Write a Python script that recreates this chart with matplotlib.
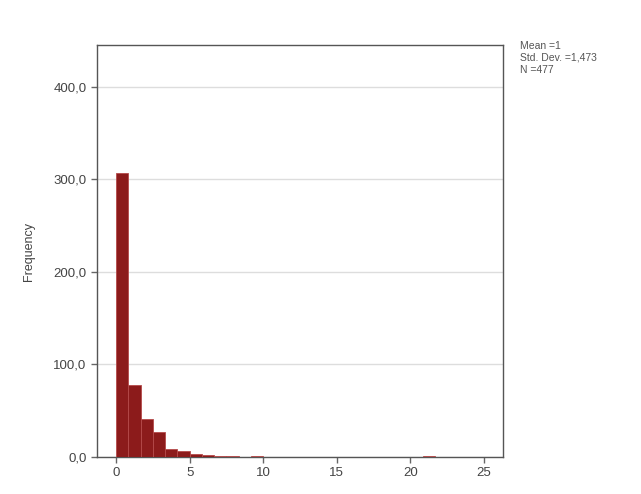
import numpy as np
import matplotlib
matplotlib.use("Agg")
import matplotlib.pyplot as plt
from matplotlib.ticker import FuncFormatter

plt.rcParams['font.family'] = ['Liberation Sans', 'DejaVu Sans']

# Histogram data: 30 bins of equal width from 0 to 25
bin_edges = np.linspace(0, 25, 31)
counts = [307, 78, 41, 27, 9, 6, 3, 2, 1, 1, 0, 1, 0, 0, 0,
          0, 0, 0, 0, 0, 0, 0, 0, 0, 0, 1, 0, 0, 0, 0]
x_ticks = [0, 5, 10, 15, 20, 25]
y_ticks = [0, 100, 200, 300, 400]
stats_text = "Mean =1\nStd. Dev. =1,473\nN =477"

fig = plt.figure(figsize=(6.41, 4.94), dpi=100)
ax = fig.add_axes([0.1513, 0.0749, 0.6334, 0.834])

ax.hist(bin_edges[:-1], bins=bin_edges, weights=counts,
        color='#8c1b1b', edgecolor='#b54a4a', linewidth=0.6, zorder=3)

ax.set_xlim(-1.3, 26.3)
ax.set_ylim(0, 445)
ax.set_xticks(x_ticks)
ax.set_yticks(y_ticks)
ax.yaxis.set_major_formatter(FuncFormatter(lambda v, p: f"{v:.1f}".replace('.', ',')))
ax.grid(axis='y', color='#dddddd', linewidth=1.0, zorder=0)
ax.set_axisbelow(True)

for s in ax.spines.values():
    s.set_color('#555555')
    s.set_linewidth(1.0)

ax.tick_params(axis='both', direction='out', length=4, width=1,
               color='#666666', labelcolor='#444444', labelsize=9.5)
ax.set_ylabel('Frequency', fontsize=9, color='#444444', labelpad=13)

fig.text(0.812, 0.918, stats_text, fontsize=7.5, color='#555555',
         va='top', ha='left', linespacing=1.3)

fig.savefig('out.png', dpi=100, facecolor='white')
